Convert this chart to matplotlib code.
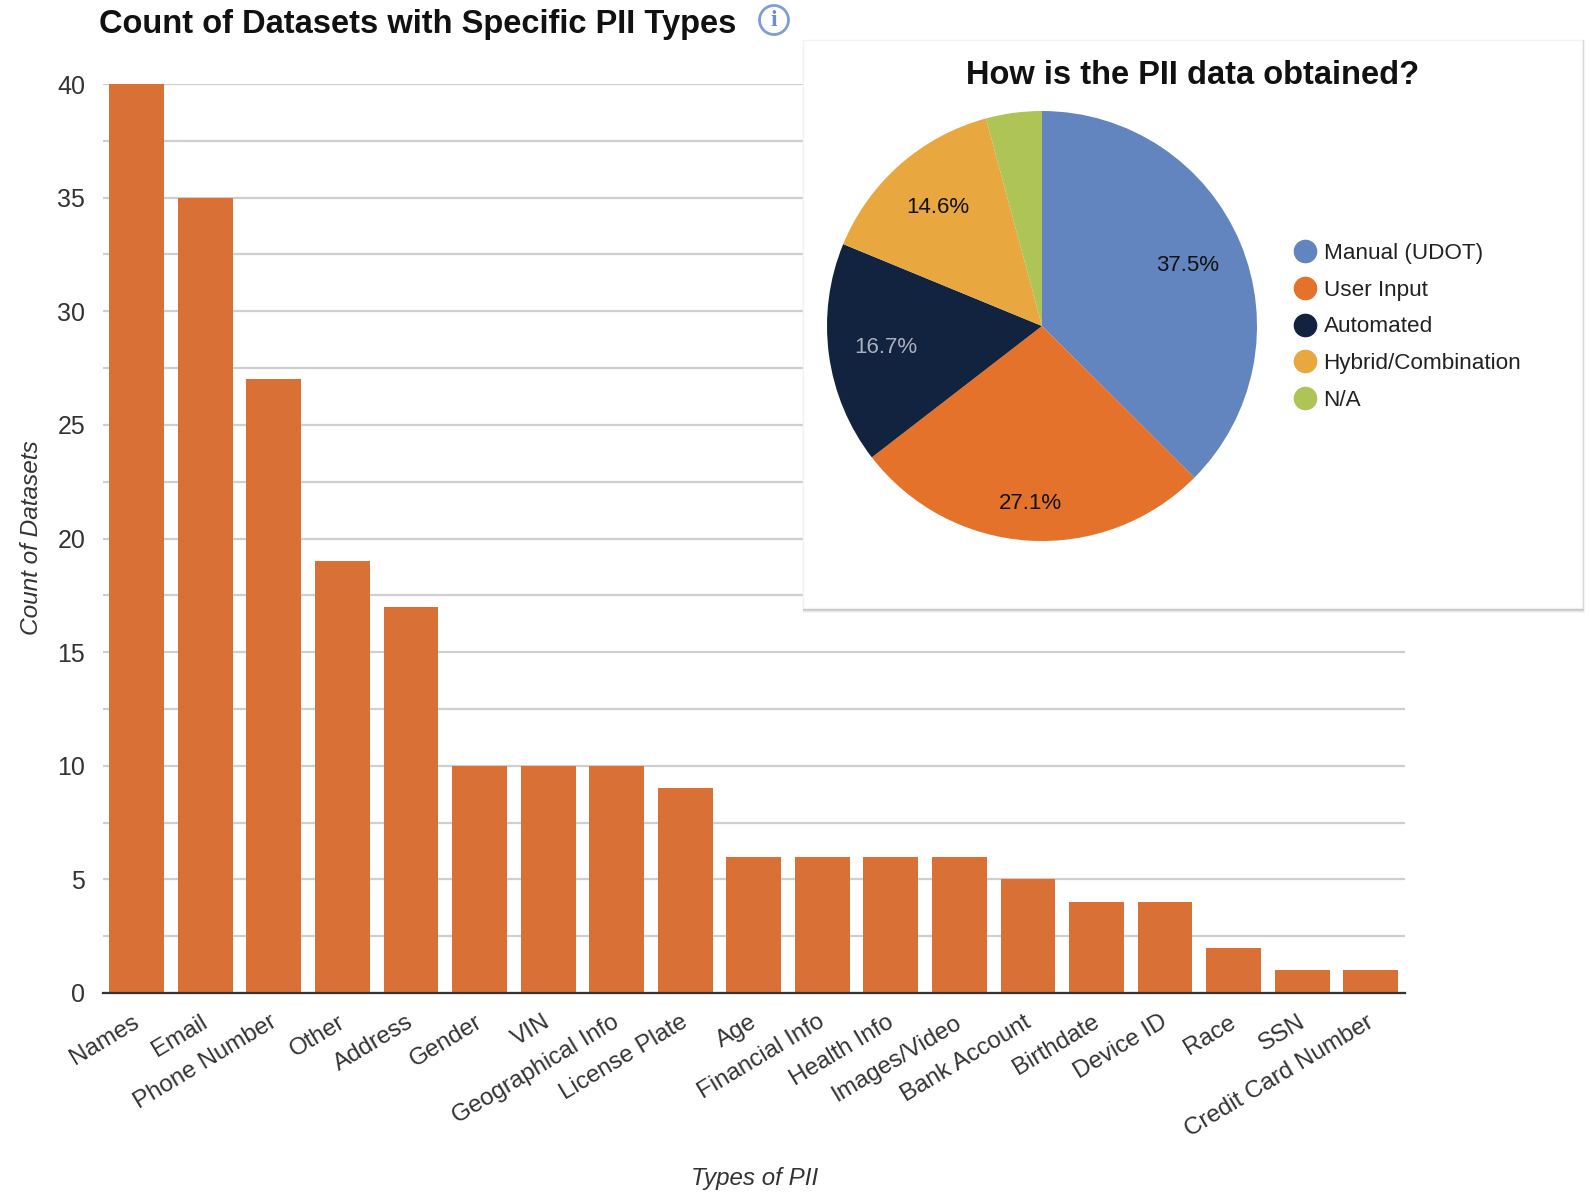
import matplotlib
matplotlib.use("Agg")
import matplotlib.pyplot as plt
from matplotlib.patches import Rectangle, Circle
from matplotlib.lines import Line2D
from matplotlib.transforms import ScaledTranslation

categories = ["Names", "Email", "Phone Number", "Other", "Address", "Gender", "VIN",
              "Geographical Info", "License Plate", "Age", "Financial Info", "Health Info",
              "Images/Video", "Bank Account", "Birthdate", "Device ID", "Race", "SSN",
              "Credit Card Number"]
counts = [40, 35, 27, 19, 17, 10, 10, 10, 9, 6, 6, 6, 6, 5, 4, 4, 2, 1, 1]
y_ticks = [0, 5, 10, 15, 20, 25, 30, 35, 40]
y_grid = [2.5, 7.5, 12.5, 17.5, 22.5, 27.5, 32.5, 37.5]

pie_labels = ["Manual (UDOT)", "User Input", "Automated", "Hybrid/Combination", "N/A"]
pie_values = [37.5, 27.1, 16.7, 14.6, 4.2]
pie_colors = ["#6385BF", "#E4722B", "#12233F", "#E8A73F", "#AEC456"]

W, H = 1591, 1192
plt.rcParams["font.family"] = ["Liberation Sans", "DejaVu Sans"]
fig = plt.figure(figsize=(W / 100, H / 100), dpi=100, facecolor="white")


def box(l, t, r, b):
    return [l / W, 1 - b / H, (r - l) / W, (b - t) / H]


ax = fig.add_axes(box(102.5, 84, 1405, 993))
ax.bar(range(len(counts)), counts, width=0.8, color="#D97036", zorder=3)
ax.set_xlim(-0.5, len(counts) - 0.5)
ax.set_ylim(0, 40)
ax.set_yticks(y_ticks)
ax.set_yticks(y_grid, minor=True)
ax.grid(True, axis="y", which="both", color="#CFCFCF", lw=1.6, zorder=0)
ax.set_axisbelow(True)
for s in ("top", "right", "left"):
    ax.spines[s].set_visible(False)
ax.spines["bottom"].set_color("#333333")
ax.spines["bottom"].set_linewidth(1.6)
ax.spines["bottom"].set_zorder(5)
ax.tick_params(axis="y", which="both", length=0, pad=12.5, labelsize=18, labelcolor="#333333")
ax.set_xticks(range(len(categories)))
ax.set_xticklabels(categories, rotation=31, ha="right", rotation_mode="anchor",
                   fontsize=17.4, color="#333333")
ax.tick_params(axis="x", length=0, pad=13)
shift = ScaledTranslation(-3.5 / 72, 0, fig.dpi_scale_trans)
for lab in ax.get_xticklabels():
    lab.set_transform(lab.get_transform() + shift)

fig.text(755 / W, 1 - 1179 / H, "Types of PII", style="italic", fontsize=17.4,
         color="#333333", ha="center", va="center")
fig.text(32 / W, 1 - 538 / H, "Count of Datasets", style="italic", fontsize=17.6, color="#333333",
         rotation=90, ha="center", va="center")
fig.text(99 / W, 1 - 24 / H, "Count of Datasets with Specific PII Types", fontweight="bold",
         fontsize=23.5, color="#111111", ha="left", va="center")

# info icon
icon = fig.add_axes(box(757, 3, 791, 37))
icon.set_xlim(757, 791)
icon.set_ylim(37, 3)
icon.axis("off")
icon.add_patch(Circle((774, 20), 14.5, fc="white", ec="#7F9CD8", lw=2))
icon.text(774, 20.5, "i", color="#6F8CCB", fontsize=17, fontweight="bold", family="Liberation Serif",
          ha="center", va="center")

# inset panel with soft shadow
PL, PT, PR, PB = 803, 40, 1582, 608
for off, alpha in ((5, 0.04), (4, 0.06), (3, 0.08), (2, 0.11), (1, 0.14)):
    fig.add_artist(Rectangle((PL / W, 1 - (PB + off) / H), (PR - PL + off * 0.5) / W, (PB - PT + off) / H,
                             transform=fig.transFigure, fc="black", ec="none", alpha=alpha, zorder=6))
fig.add_artist(Rectangle((PL / W, 1 - PB / H), (PR - PL) / W, (PB - PT) / H, transform=fig.transFigure,
                         fc="white", ec="#F2F2F2", lw=1, zorder=7))

pie_ax = fig.add_axes(box(827, 111, 1257, 541), zorder=8)
wedges, _, autotexts = pie_ax.pie(
    pie_values, colors=pie_colors, startangle=90, counterclock=False, radius=1.0,
    autopct=lambda p: f"{p:.1f}%" if p >= 5 else "", pctdistance=0.735,
    textprops={"fontsize": 16, "color": "#111111"})
autotexts[2].set_color("#A9B0BE")
x27, y27 = autotexts[1].get_position()
autotexts[1].set_position((x27 * 1.125, y27 * 1.125))
pie_ax.set_xlim(-1, 1)
pie_ax.set_ylim(-1, 1)
fig.text(1193 / W, 1 - 76 / H, "How is the PII data obtained?", fontweight="bold", fontsize=23.5,
         color="#111111", ha="center", va="center", zorder=9)

handles = [Line2D([], [], marker="o", ls="none", ms=16, mfc=c, mec=c) for c in pie_colors]
leg = fig.legend(handles, pie_labels, loc="upper left", bbox_to_anchor=(1288 / W, 1 - 243 / H),
                 frameon=False, fontsize=16.2, labelspacing=0.7, handletextpad=0.08, handlelength=1.5,
                 borderpad=0, borderaxespad=0, labelcolor="#222222")
leg.set_zorder(9)

fig.savefig("out.png", dpi=100)
